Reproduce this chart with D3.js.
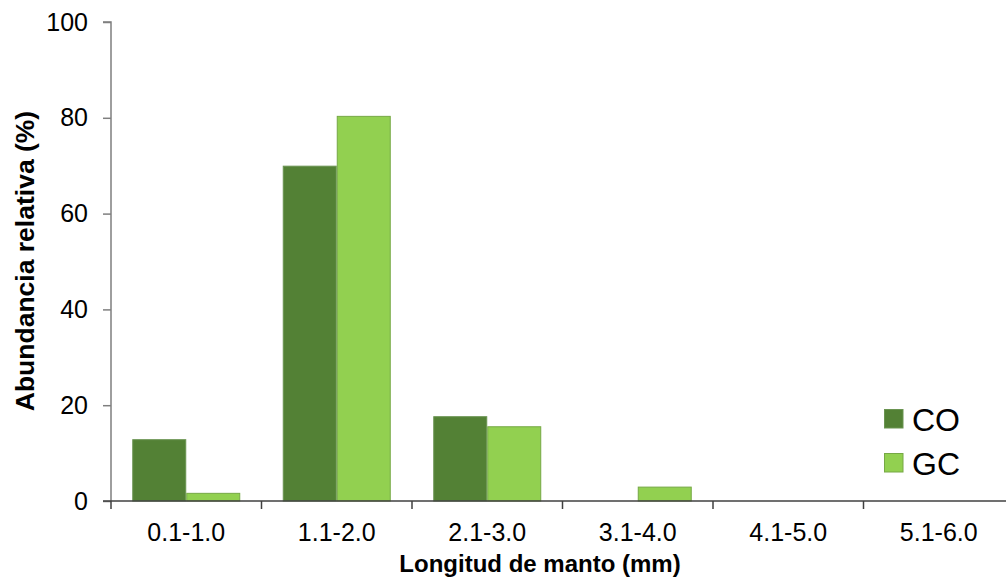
<!DOCTYPE html>
<html>
<head>
<meta charset="utf-8">
<script src="https://cdn.jsdelivr.net/npm/d3@7"></script>
<style>
  html, body { margin: 0; padding: 0; background: #fff; }
  svg { display: block; font-family: "Liberation Sans", Arial, sans-serif; }
</style>
</head>
<body>
<svg id="chart" width="1006" height="586"></svg>
<script>
const categories = ["0.1-1.0", "1.1-2.0", "2.1-3.0", "3.1-4.0", "4.1-5.0", "5.1-6.0"];
const seriesNames = ["CO", "GC"];
const valuesCO = [12.8, 69.9, 17.6, 0, 0, 0];
const valuesGC = [1.6, 80.3, 15.5, 2.9, 0, 0];
const yTicks = [0, 20, 40, 60, 80, 100];
const colors = { CO: "#538135", GC: "#92d050" };
const strokes = { CO: "#6a9451", GC: "#76a845" };

const svg = d3.select("#chart");
const mLeft = 111, mRight = 1014, mTop = 22, mBottom = 501;

const x = d3.scaleBand().domain(categories).range([mLeft, mRight])
  .paddingInner(0.2824).paddingOuter(0.1412);
const x1 = d3.scaleBand().domain(seriesNames).range([0, x.bandwidth()]);
const y = d3.scaleLinear().domain([0, 100]).range([mBottom, mTop]);

const data = categories.map((c, i) => ({ cat: c, CO: valuesCO[i], GC: valuesGC[i] }));

// bars
const g = svg.append("g");
g.selectAll("g.grp").data(data).join("g")
  .attr("transform", d => `translate(${x(d.cat)},0)`)
  .selectAll("rect").data(d => seriesNames.map(s => ({ s, v: d[s] })).filter(e => e.v > 0))
  .join("rect")
  .attr("x", e => x1(e.s) + 0.5)
  .attr("width", x1.bandwidth() - 1)
  .attr("y", e => y(e.v))
  .attr("height", e => y(0) - y(e.v))
  .attr("fill", e => colors[e.s])
  .attr("stroke", e => strokes[e.s])
  .attr("stroke-width", 1);

// y axis
const yAxis = svg.append("g").attr("transform", `translate(${mLeft},0)`)
  .call(d3.axisLeft(y).tickValues(yTicks).tickSize(8).tickPadding(15).tickFormat(d3.format("d")));
yAxis.select(".domain").attr("stroke", "#7f7f7f").attr("stroke-width", 1.5)
  .attr("d", `M-8,${y(100)}H0V${y(0)}`);
yAxis.selectAll(".tick line").attr("stroke", "#7f7f7f").attr("stroke-width", 1.5);
yAxis.selectAll(".tick text").attr("fill", "#000").attr("font-size", 25)
  .attr("font-family", "Liberation Sans, Arial, sans-serif");

// x axis
const xAxis = svg.append("g").attr("transform", `translate(0,${mBottom})`)
  .call(d3.axisBottom(x).tickSize(0).tickPadding(22));
xAxis.select(".domain").remove();
xAxis.selectAll(".tick text").attr("fill", "#000").attr("font-size", 25)
  .attr("font-family", "Liberation Sans, Arial, sans-serif");
const gap = (x.step() - x.bandwidth()) / 2;
const boundaries = categories.map(c => x(c) - gap).concat([x(categories[categories.length - 1]) + x.bandwidth() + gap]);
svg.append("line").attr("x1", mLeft - 8).attr("x2", mRight).attr("y1", mBottom).attr("y2", mBottom)
  .attr("stroke", "#404040").attr("stroke-width", 1.5);
svg.append("g").selectAll("line").data(boundaries).join("line")
  .attr("x1", d => d).attr("x2", d => d).attr("y1", mBottom).attr("y2", mBottom + 8)
  .attr("stroke", "#404040").attr("stroke-width", 1.5);

// titles
svg.append("text").attr("x", 540).attr("y", 572).attr("text-anchor", "middle")
  .attr("font-size", 24).attr("font-weight", "bold").attr("fill", "#000")
  .text("Longitud de manto (mm)");
svg.append("text").attr("transform", "translate(34,261) rotate(-90)").attr("text-anchor", "middle")
  .attr("font-size", 26.5).attr("font-weight", "bold").attr("fill", "#000")
  .text("Abundancia relativa (%)");

// legend
const leg = svg.append("g").attr("transform", "translate(884,409)");
seriesNames.forEach((s, i) => {
  const row = leg.append("g").attr("transform", `translate(0,${i * 44})`);
  row.append("rect").attr("x", 0.5).attr("y", 0.5).attr("width", 18.5).attr("height", 18.5)
    .attr("fill", colors[s]).attr("stroke", strokes[s]).attr("stroke-width", 1);
  row.append("text").attr("x", 28).attr("y", 10).attr("dy", "0.36em")
    .attr("font-size", 32).attr("fill", "#000").text(s);
});
</script>
</body>
</html>
